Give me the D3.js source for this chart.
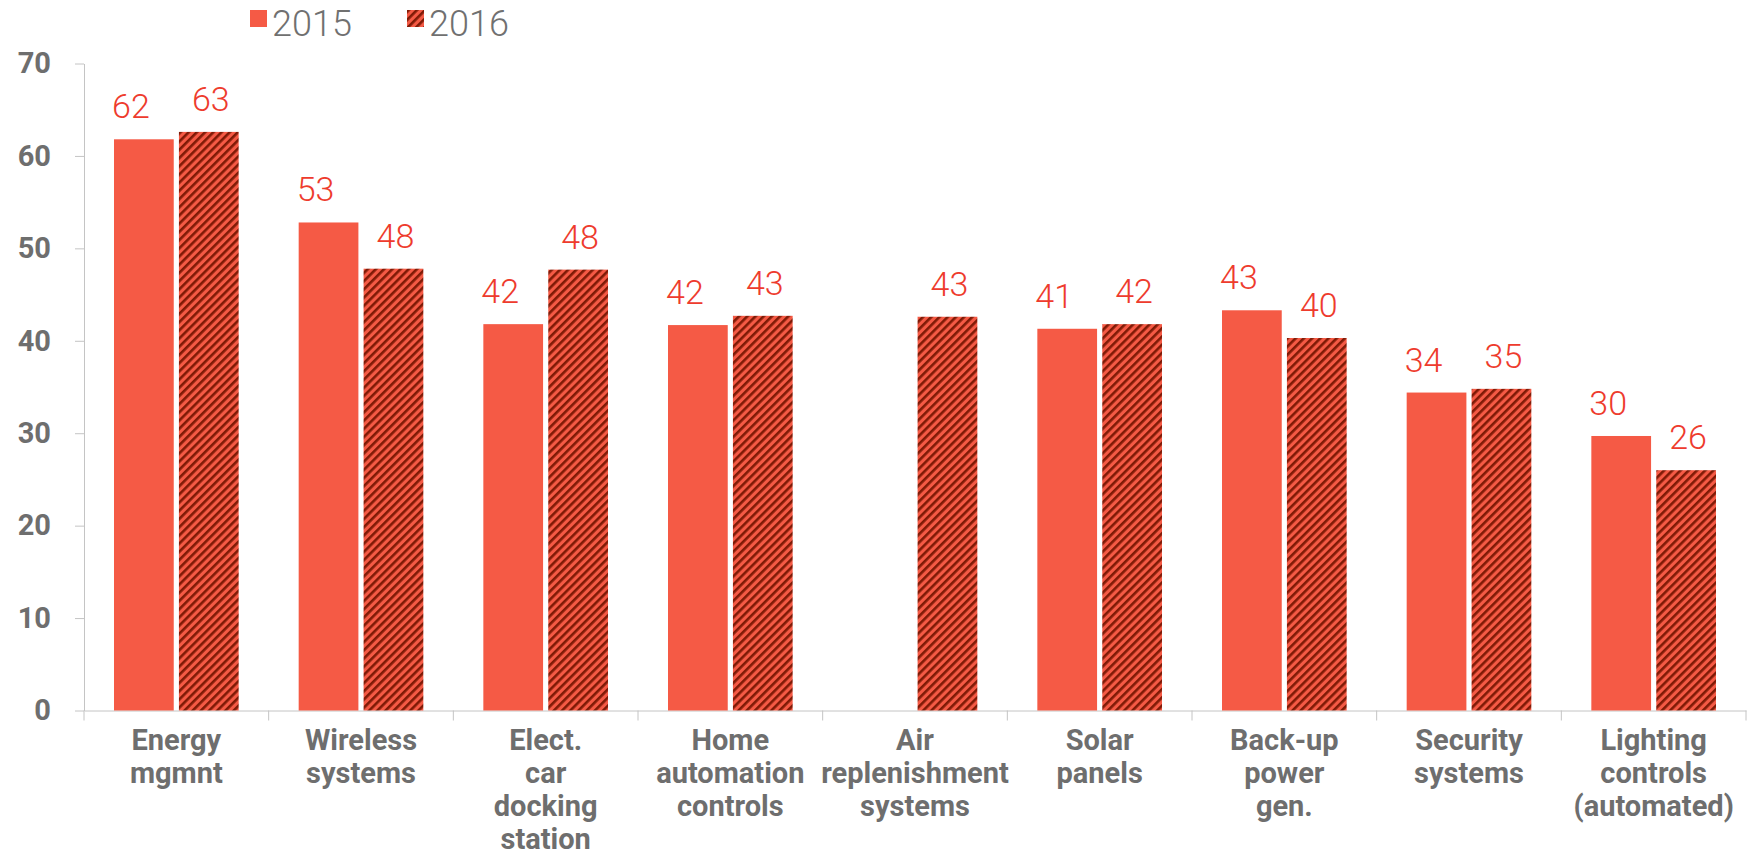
<!DOCTYPE html>
<html>
<head>
<meta charset="utf-8">
<script src="https://cdn.jsdelivr.net/npm/d3@7"></script>
<style>
  body { margin: 0; background: #fff; }
</style>
</head>
<body>
<div id="chart"></div>
<script>
// data
const categories = ["Energy mgmnt", "Wireless systems", "Elect. car docking station", "Home automation controls",
  "Air replenishment systems", "Solar panels", "Back-up power gen.", "Security systems", "Lighting controls (automated)"];
const categoryLines = [["Energy", "mgmnt"], ["Wireless", "systems"], ["Elect.", "car", "docking", "station"],
  ["Home", "automation", "controls"], ["Air", "replenishment", "systems"], ["Solar", "panels"],
  ["Back-up", "power", "gen."], ["Security", "systems"], ["Lighting", "controls", "(automated)"]];
const series = ["2015", "2016"];
const values2015 = [61.8, 52.8, 41.8, 41.7, null, 41.3, 43.3, 34.4, 29.7];
const values2016 = [62.6, 47.8, 47.7, 42.7, 42.6, 41.8, 40.3, 34.8, 26.0];
const yTicks = [0, 10, 20, 30, 40, 50, 60, 70];

const width = 1752, height = 855;
const margin = { top: 63.5, right: 6, bottom: 144.5, left: 84 };
const coral = "#f55a45", darkRed = "#7f1a06", grey = "#6e6e6e", axisGrey = "#c4c4c4", labelRed = "#ee3b2d";

const svg = d3.select("#chart").append("svg")
    .attr("width", width)
    .attr("height", height);

// hatch for 2016
const pat = svg.append("defs").append("pattern")
    .attr("id", "hatch")
    .attr("patternUnits", "userSpaceOnUse")
    .attr("width", 5.8)
    .attr("height", 5.8)
    .attr("patternTransform", "rotate(45)");
pat.append("rect").attr("width", 5.8).attr("height", 5.8).attr("fill", coral);
pat.append("rect").attr("width", 2.6).attr("height", 5.8).attr("fill", darkRed);

const fills = { "2015": coral, "2016": "url(#hatch)" };

const x0 = d3.scaleBand()
    .domain(categories)
    .range([margin.left, width - margin.right])
    .paddingInner(0.325)
    .paddingOuter(0.1625);

const x1 = d3.scaleBand()
    .domain(series)
    .range([0, x0.bandwidth()])
    .paddingInner(0.08);

const y = d3.scaleLinear()
    .domain([0, 70])
    .range([height - margin.bottom, margin.top]);

// y axis
const yAxis = svg.append("g")
    .attr("transform", `translate(${margin.left},0)`)
    .call(d3.axisLeft(y).tickValues(yTicks).tickSize(9).tickSizeOuter(0).tickPadding(24));
yAxis.select(".domain").attr("stroke", axisGrey);
yAxis.selectAll(".tick line").attr("stroke", axisGrey);
yAxis.selectAll(".tick text")
    .attr("fill", grey)
    .style("font-family", "Roboto, 'Liberation Sans', sans-serif")
    .style("font-weight", 700)
    .style("font-size", "29px");

// x axis line + ticks between categories
const xAxis = svg.append("g")
    .attr("transform", `translate(0,${height - margin.bottom})`)
    .call(d3.axisBottom(x0).tickSize(0).tickSizeOuter(0).tickFormat(""));
xAxis.select(".domain").attr("stroke", axisGrey);
const gapHalf = (x0.step() - x0.bandwidth()) / 2;
const bounds = categories.map(c => x0(c) - gapHalf).concat([x0(categories[categories.length - 1]) + x0.bandwidth() + gapHalf]);
xAxis.selectAll(".bound")
    .data(bounds)
    .enter().append("line")
    .attr("x1", d => d).attr("x2", d => d)
    .attr("y1", 0).attr("y2", 10)
    .attr("stroke", axisGrey);

// category labels
const catText = svg.append("g").selectAll("text")
    .data(categories)
    .enter().append("text")
    .attr("x", d => x0(d) + x0.bandwidth() / 2)
    .attr("y", 750)
    .attr("text-anchor", "middle")
    .attr("fill", grey)
    .style("font-family", "Roboto, 'Liberation Sans', sans-serif")
    .style("font-weight", 700)
    .style("font-size", "29px");
catText.selectAll("tspan")
    .data((d, i) => categoryLines[i].map(t => ({ t, x: x0(d) + x0.bandwidth() / 2 })))
    .enter().append("tspan")
    .attr("x", d => d.x)
    .attr("dy", (d, i) => i === 0 ? 0 : 33)
    .text(d => d.t);

// bars
const rows = categories.map((c, i) => ({ cat: c, vals: [
  { s: "2015", v: values2015[i] },
  { s: "2016", v: values2016[i] }
].filter(d => d.v != null) }));

const groups = svg.append("g").selectAll("g")
    .data(rows)
    .enter().append("g")
    .attr("transform", d => `translate(${x0(d.cat)},0)`);

groups.selectAll("rect")
    .data(d => d.vals)
    .enter().append("rect")
    .attr("x", d => x1(d.s))
    .attr("y", d => y(d.v))
    .attr("width", x1.bandwidth())
    .attr("height", d => y(0) - y(d.v))
    .attr("fill", d => fills[d.s]);

groups.selectAll(".val")
    .data(d => d.vals)
    .enter().append("text")
    .attr("class", "val")
    .attr("x", d => d.s === "2015" ? x1(d.s) - 2 : x1(d.s) + x1.bandwidth() / 2 + 2)
    .attr("y", d => y(d.v) - 21)
    .attr("text-anchor", d => d.s === "2015" ? "start" : "middle")
    .attr("fill", labelRed)
    .style("font-family", "Roboto, 'Open Sans', sans-serif")
    .style("font-weight", 300)
    .style("font-size", "34px")
    .text(d => Math.round(d.v));

// legend
const legend = svg.append("g").selectAll("g")
    .data(series)
    .enter().append("g")
    .attr("transform", (d, i) => `translate(${250 + i * 157},10)`);
legend.append("rect")
    .attr("width", 17)
    .attr("height", 17)
    .attr("fill", d => fills[d]);
legend.append("text")
    .attr("x", 22)
    .attr("y", 26)
    .attr("fill", "#707070")
    .style("font-family", "Roboto, 'Open Sans', sans-serif")
    .style("font-weight", 300)
    .style("font-size", "36px")
    .text(d => d);
</script>
</body>
</html>
